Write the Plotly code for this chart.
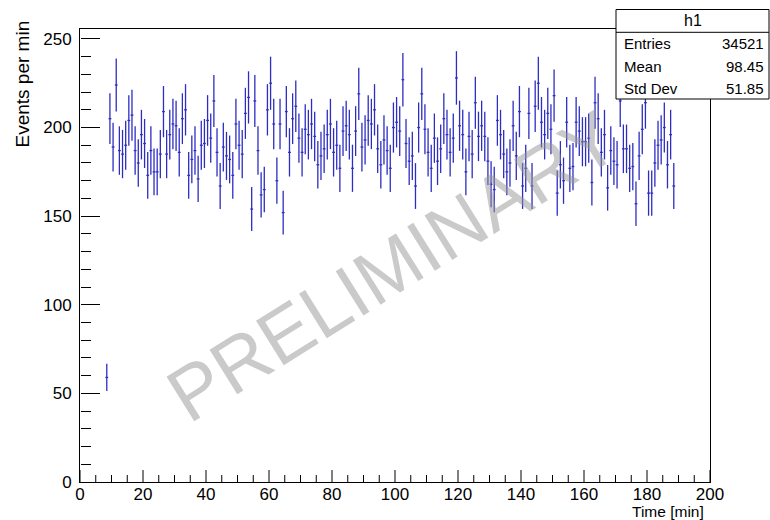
import numpy as np
import plotly.graph_objects as go

# ---- data: events per 1-minute bin, bins starting at minute 8 ----
first_bin = 8
counts = [59,
    205,189,224,187,185,190,204,207,187,180,196,191,173,187,175,175,185,209,185,196,
    202,201,186,205,210,173,182,187,171,190,191,204,194,215,186,167,189,184,182,173,
    202,190,185,208,217,154,215,187,162,165,210,225,202,170,202,152,209,186,205,212,
    194,186,199,196,202,195,179,184,188,196,202,186,190,177,198,201,196,177,198,219,
    189,193,204,202,210,188,179,193,187,177,200,203,198,227,191,181,184,167,200,219,199,
    186,177,194,181,188,205,196,186,194,228,201,196,175,195,185,214,195,201,195,181,
    168,165,204,196,185,175,180,201,184,209,167,177,208,167,212,225,203,196,208,199,
    218,163,179,170,203,177,178,203,198,192,192,194,169,214,205,186,196,166,187,181,
    179,215,188,188,177,178,157,184,199,214,163,163,180,190,193,200,179,196,167]

stat_labels = ["Entries", "Mean", "Std Dev"]
stat_values = ["34521", "98.45", "51.85"]
hist_name = "h1"

x_tick_vals = [0, 20, 40, 60, 80, 100, 120, 140, 160, 180, 200]
x_minor_step = 5
y_tick_vals = [0, 50, 100, 150, 200, 250]

centers = [first_bin + i + 0.5 for i in range(len(counts))]
errors = [float(np.sqrt(c)) for c in counts]

W, H = 770, 520
L, R, T, B = 80, 60, 29, 38
pw, ph = W - L - R, H - T - B
X_RANGE = [0, 200]
Y_RANGE = [0, 255.6]

def px(xp):
    return (xp - L) / pw

def py(yp):
    return (H - B - yp) / ph

FONT = "Liberation Sans, Arial, Helvetica, sans-serif"
BLUE = "rgb(45,45,195)"

fig = go.Figure()
fig.add_trace(go.Scatter(
    x=centers, y=counts, mode="markers",
    marker=dict(size=1, color=BLUE, opacity=0),
    error_y=dict(type="data", array=errors, visible=True, width=0, thickness=1.3, color=BLUE),
    error_x=dict(type="constant", value=0.45, visible=True, width=0, thickness=1.3, color=BLUE),
    showlegend=False, hoverinfo="skip",
))
# carrier trace for the tick-only overlay y axis (ROOT-style ticks pointing into the frame)
fig.add_trace(go.Scatter(
    x=centers, y=counts, mode="markers", xaxis="x", yaxis="y2",
    marker=dict(size=1, opacity=0), showlegend=False, hoverinfo="skip",
))

fig.update_layout(
    xaxis=dict(
        range=X_RANGE, tickmode="array", tickvals=x_tick_vals, ticks="",
        ticklabelstandoff=-3,
        showline=True, linecolor="black", linewidth=1, mirror=True,
        showgrid=False, zeroline=False,
        tickfont=dict(family=FONT, size=17, color="black"),
    ),
    yaxis=dict(
        range=Y_RANGE, tickmode="array", tickvals=y_tick_vals, ticks="",
        ticklabelstandoff=4,
        showline=True, linecolor="black", linewidth=1, mirror=True,
        showgrid=False, zeroline=False,
        tickfont=dict(family=FONT, size=17, color="black"),
    ),
    yaxis2=dict(
        overlaying="y", side="right", anchor="free", position=0,
        range=Y_RANGE, tickmode="array", tickvals=y_tick_vals,
        ticks="outside", ticklen=19, tickwidth=1, tickcolor="black",
        minor=dict(tickmode="linear", tick0=0, dtick=10, ticks="outside", ticklen=10,
                   tickwidth=1, tickcolor="black", showgrid=False),
        showticklabels=False, showline=False, showgrid=False, zeroline=False,
    ),
)

annotations = [
    dict(text="Events per min", xref="paper", yref="paper", x=px(22), y=py(18),
         xanchor="center", yanchor="top", textangle=-90, showarrow=False,
         font=dict(family=FONT, size=19, color="black")),
    dict(text="Time [min]", xref="paper", yref="paper", x=px(706), y=py(512),
         xanchor="right", yanchor="middle", showarrow=False,
         font=dict(family=FONT, size=15.5, color="black")),
    dict(text="PRELIMINARY", xref="x", yref="y", x=99.5, y=122, xanchor="center", yanchor="middle",
         textangle=-32, showarrow=False,
         font=dict(family=FONT, size=76, color="rgba(150,150,150,0.5)")),
]

shapes = []
# x-axis ticks pointing up into the frame (major at tick values, minor every 5)
minor_vals = [v for v in range(X_RANGE[0], X_RANGE[1] + 1, x_minor_step) if v not in x_tick_vals]
for v in x_tick_vals:
    shapes.append(dict(type="line", xref="x", yref="paper", x0=v, x1=v, y0=0, y1=12 / ph,
                       line=dict(color="black", width=1)))
for v in minor_vals:
    shapes.append(dict(type="line", xref="x", yref="paper", x0=v, x1=v, y0=0, y1=7 / ph,
                       line=dict(color="black", width=1)))

# stats box
bx0, bx1, by0, by1, bsep = 616, 769, 9.5, 99, 32.3
shapes += [
    dict(type="rect", xref="paper", yref="paper", x0=px(bx0), x1=px(bx1), y0=py(by1), y1=py(by0),
         line=dict(color="black", width=1), fillcolor="white", layer="above"),
    dict(type="line", xref="paper", yref="paper", x0=px(bx0), x1=px(bx1), y0=py(bsep), y1=py(bsep),
         line=dict(color="black", width=1), layer="above"),
]
annotations.append(dict(text=hist_name, xref="paper", yref="paper", x=px((bx0 + bx1) / 2), y=py(21),
                        xanchor="center", yanchor="middle", showarrow=False,
                        font=dict(family=FONT, size=16, color="black")))
row_y = [44, 66.5, 88.5]
for lab, val, ry in zip(stat_labels, stat_values, row_y):
    annotations.append(dict(text=lab, xref="paper", yref="paper", x=px(622), y=py(ry),
                            xanchor="left", yanchor="middle", showarrow=False,
                            font=dict(family=FONT, size=15, color="black")))
    annotations.append(dict(text=val, xref="paper", yref="paper", x=px(766), y=py(ry),
                            xanchor="right", yanchor="middle", showarrow=False,
                            font=dict(family=FONT, size=15, color="black")))

fig.update_layout(
    width=W, height=H, autosize=False,
    margin=dict(l=L, r=R, t=T, b=B, pad=0),
    paper_bgcolor="white", plot_bgcolor="white",
    annotations=annotations, shapes=shapes,
)

fig.write_html("out.html", include_plotlyjs=True, full_html=True,
               config={"displayModeBar": False})
